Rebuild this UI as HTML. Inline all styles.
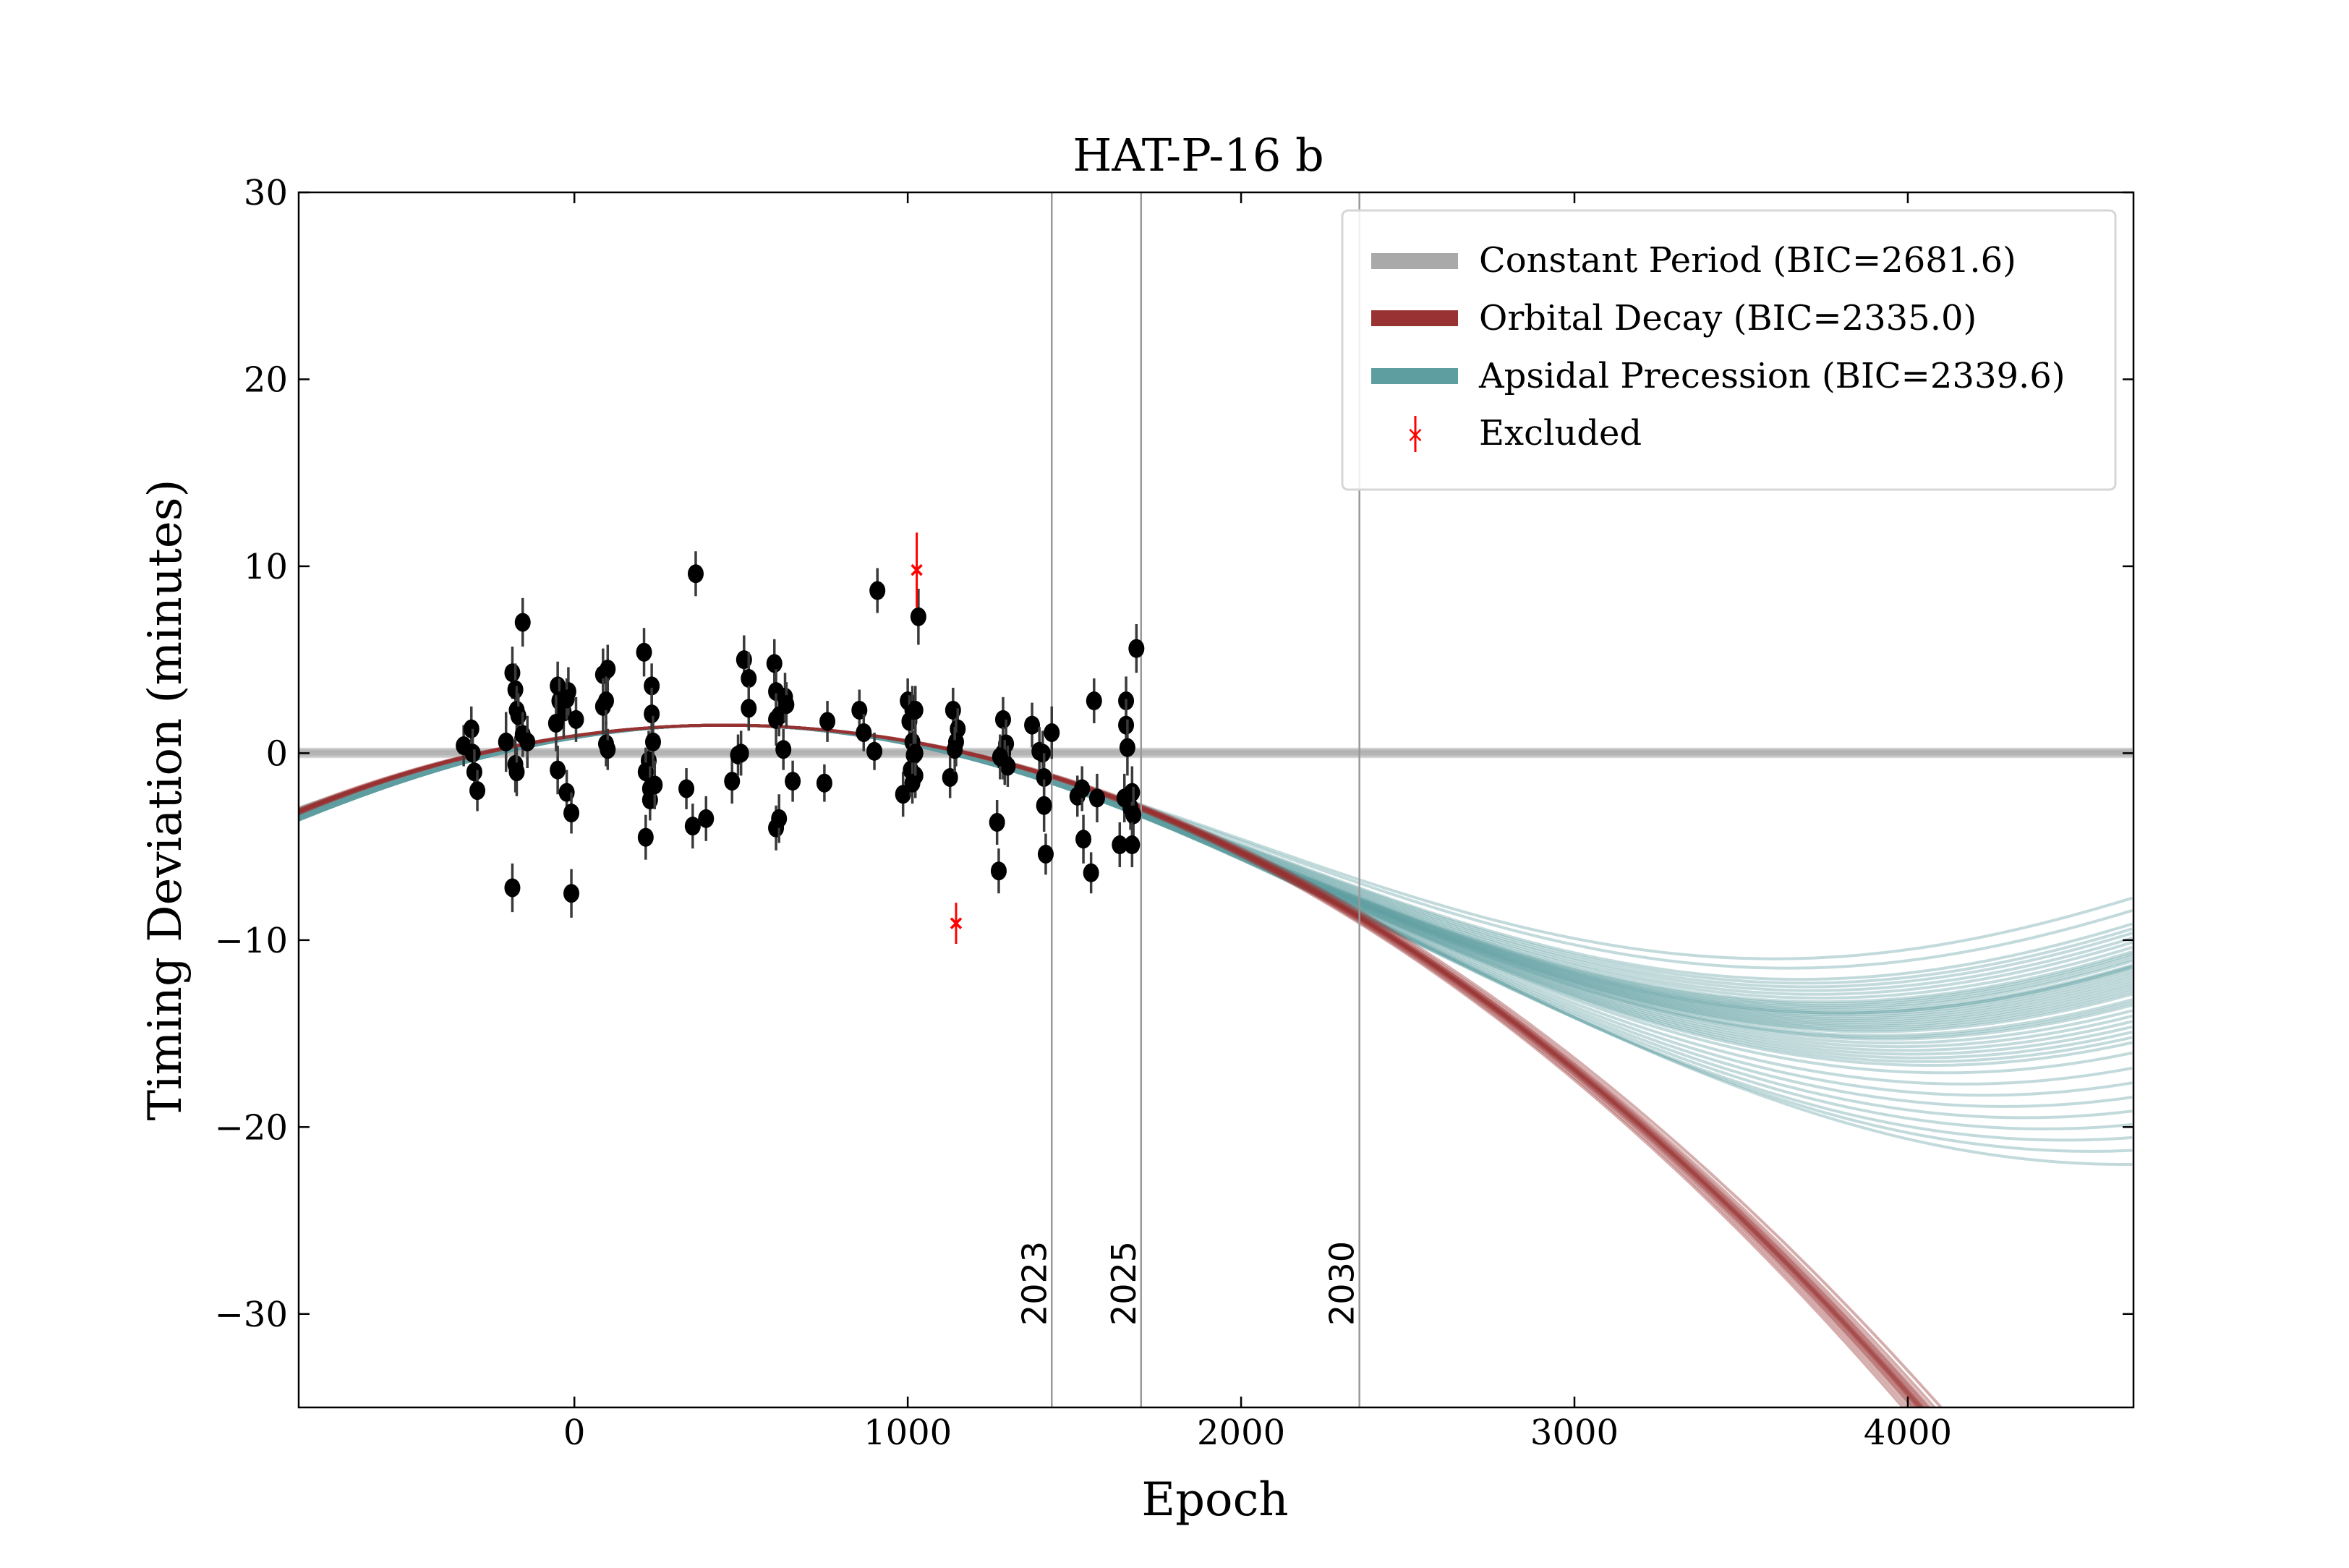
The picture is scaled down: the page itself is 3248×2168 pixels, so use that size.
<!DOCTYPE html>
<html><head><meta charset="utf-8"><style>
html,body{margin:0;padding:0;background:#fff;width:3248px;height:2168px;overflow:hidden;}
svg{display:block;font-family:"DejaVu Serif","Liberation Serif",serif;}
</style></head><body>
<svg id="chart" width="3248" height="2168" viewBox="0 0 3248 2168" xmlns="http://www.w3.org/2000/svg">
<defs><clipPath id="clip"><rect x="413" y="266" width="2537" height="1680"/></clipPath></defs>
<rect x="0" y="0" width="3248" height="2168" fill="#fff"/>
<g id="models" clip-path="url(#clip)"></g>
<g id="vlines"></g>
<g id="points" clip-path="url(#clip)"></g>
<rect x="413" y="266" width="2537" height="1680" fill="none" stroke="#000" stroke-width="2.5"/>
<g id="axes"></g>
<text x="1657" y="236" font-size="62" text-anchor="middle">HAT-P-16 b</text>
<text x="1680" y="2095" font-size="64" text-anchor="middle">Epoch</text>
<text x="0" y="0" font-size="64" text-anchor="middle" transform="translate(250,1106) rotate(-90)">Timing Deviation (minutes)</text>
<g>
<rect x="1856" y="291" width="1069" height="386" rx="8" fill="#fff" fill-opacity="0.85" stroke="#d6d6d6" stroke-width="3"/>
<g><rect x="1896" y="350" width="120" height="22" fill="#a9a9a9"/><text x="2045" y="376" font-size="48">Constant Period (BIC=2681.6)</text></g>
<g><rect x="1896" y="429" width="120" height="22" fill="#993333"/><text x="2045" y="456" font-size="48">Orbital Decay (BIC=2335.0)</text></g>
<g><rect x="1896" y="509" width="120" height="22" fill="#5f9ea0"/><text x="2045" y="536" font-size="48">Apsidal Precession (BIC=2339.6)</text></g>
<g><line x1="1957" y1="575" x2="1957" y2="625" stroke="red" stroke-width="3"/><text x="1957" y="611" font-size="30" fill="red" text-anchor="middle" font-family="DejaVu Sans,sans-serif">×</text><text x="2045" y="615" font-size="48">Excluded</text></g>
</g>
</svg>
<script>
// data
const epochs=[-332,-309,-305,-300,-291,-186,-177,-173,-168,-177,-173,-186,-155,-155,-141,-205,
-50,-45,-32,-18,-23,-55,5,-50,-23,-9,-9,
86,100,86,95,95,100,
209,232,232,223,214,227,227,241,214,236,
364,336,355,395,
473,491,500,509,523,523,
600,605,605,614,632,636,627,605,614,655,
759,750,855,868,900,909,
986,1000,1014,1005,1014,1018,1009,1023,1014,1032,1023,1023,
1127,1136,1150,1145,1141,
1286,1268,1273,1286,1295,1291,1300,1277,
1373,1395,1405,1409,1409,1414,1432,
1509,1523,1527,1550,1559,1568,
1636,1655,1655,1659,1650,1668,1673,1677,1673,1686];
const deviations=[0.4,1.3,0,-1,-2,4.3,3.4,2.3,2.0,-0.6,-1,-7.2,7,1,0.6,0.6,
3.6,2.8,2.2,3.3,2.9,1.6,1.8,-0.9,-2.1,-3.2,-7.5,
4.2,4.5,2.5,2.8,0.5,0.2,
5.4,3.6,2.1,-0.4,-1,-1.9,-2.5,-1.7,-4.5,0.6,
9.6,-1.9,-3.9,-3.5,
-1.5,-0.1,0,5,4,2.4,
4.8,3.3,1.8,2,3,2.6,0.2,-4,-3.5,-1.5,
1.7,-1.6,2.3,1.1,0.1,8.7,
-2.2,2.8,2.3,1.7,0.6,-0.1,-0.9,-1.2,-1.6,7.3,2.3,0,
-1.3,2.3,1.3,0.6,0.2,
1.8,-3.7,-6.3,0,0.5,-0.5,-0.7,-0.2,
1.5,0.1,0,-1.3,-2.8,-5.4,1.1,
-2.3,-1.9,-4.6,-6.4,2.8,-2.4,
-4.9,2.8,1.5,0.3,-2.4,-2.9,-2.1,-3.3,-4.9,5.6];
const errors=[1.1,1.2,1.3,1.2,1.1,1.4,1.4,1.3,1.2,1.5,1.3,1.3,1.3,1.2,1.4,1.6,
1.3,1.2,1.4,1.3,1.1,1.5,1.2,1.3,1.2,1.1,1.3,
1.4,1.3,1.5,1.3,1.2,1.1,
1.3,1.2,1.4,1.6,1.3,1.2,1.1,1.3,1.2,1.4,
1.2,1.1,1.2,1.2,
1.2,1.1,1.2,1.3,1.4,1.2,
1.3,1.2,1.4,1.1,1.3,1.2,1.1,1.2,1.3,1.1,
1.1,1.0,1.1,1.0,1.0,1.2,
1.2,1.2,1.3,1.4,1.2,1.3,1.4,1.2,1.1,1.5,1.3,1.2,
1.1,1.2,1.1,1.3,1.2,
1.2,1.2,1.2,1.4,1.3,1.2,1.1,1.2,
1.2,1.3,1.2,1.3,1.4,1.1,1.4,
1.1,1.2,1.3,1.1,1.2,1.3,
1.2,1.3,1.4,1.5,1.3,1.2,1.4,1.5,1.2,1.3];
const excludedEpochs=[1027,1145];
const excludedDeviations=[9.8,-9.1];
const excludedErrors=[2.0,1.1];
const xTicks=[0,1000,2000,3000,4000];
const yTicks=[30,20,10,0,-10,-20,-30];
const yearEpochs=[1432,2355];
const yearEpochs2=[1700];
const yearLabels=["2023","2030"];
const yearLabels2=["2025"];
// model samples
const decayK=[2.74e-6,2.77e-6,2.79e-6,2.80e-6,2.81e-6,2.82e-6,2.825e-6,2.83e-6,2.835e-6,2.84e-6,2.845e-6,2.85e-6,2.86e-6,2.87e-6,2.88e-6,2.90e-6,2.92e-6];
const apsAmp=[6.25,6.5,6.8,7.0,7.2,7.4,7.5,7.6,7.7,7.75,7.8,7.9,8.0,8.1,8.2,8.3,8.4,8.5,8.7,8.9,9.1,9.3,9.6,9.9,10.2,10.5,10.8,11.1,11.4,11.75,7.3,7.65,7.85,8.05,8.6,9.0,7.45,7.55,7.7,7.95,8.15,8.35,8.8,6.9,7.1];
const apsPeriod=[6300,6380,6450,6500,6550,6600,6620,6650,6680,6700,6720,6760,6800,6840,6880,6920,6960,7000,7080,7160,7240,7320,7440,7560,7680,7800,7920,8040,8200,8400,6580,6690,6740,6820,7040,7200,6610,6640,6700,6780,6860,6940,7120,6480,6530];
const constOffsets=[-0.15,-0.08,0,0.06,0.12,0.18];

const X0=413,X1=2950,Y0=266,Y1=1946,XMIN=-827,XMAX=4677,YMIN=-35,YMAX=30;
const sx=e=>X0+(e-XMIN)/(XMAX-XMIN)*(X1-X0);
const sy=v=>Y0+(YMAX-v)/(YMAX-YMIN)*(Y1-Y0);
const NS='http://www.w3.org/2000/svg';
function mk(tag,attrs,parent){const el=document.createElementNS(NS,tag);for(const k in attrs)el.setAttribute(k,attrs[k]);parent.appendChild(el);return el;}
const models=document.getElementById('models');
function pathFor(f){let d='';for(let e=XMIN;e<=XMAX;e+=20){d+=(d?'L':'M')+sx(e).toFixed(1)+','+sy(f(e)).toFixed(1);}return d;}
constOffsets.forEach(o=>{
 const p=mk('path',{d:pathFor(()=>o),fill:'none',stroke:'#a9a9a9','stroke-width':6,'stroke-opacity':0.45},models);
 
 
});
apsAmp.forEach((A,i)=>{
 const P=apsPeriod[i];
 const p=mk('path',{d:pathFor(e=>1.5-A*(1-Math.cos(2*Math.PI*(e-450)/P))),fill:'none',stroke:'#5f9ea0','stroke-width':4,'stroke-opacity':0.38},models);
 
 
});
decayK.forEach(k=>{
 const p=mk('path',{d:pathFor(e=>1.5-k*(e-450)*(e-450)),fill:'none',stroke:'#993333','stroke-width':4,'stroke-opacity':0.4},models);
 
 
});
const vl=document.getElementById('vlines');
function yearLine(e,label){
 const l=mk('line',{x1:sx(e),x2:sx(e),y1:Y0,y2:Y1,stroke:'#999','stroke-width':2.5},vl);
 
 
 const t=mk('text',{x:0,y:0,'font-size':46,'font-family':'DejaVu Sans,Liberation Sans,sans-serif',transform:`translate(${sx(e)-8},1833) rotate(-90)`},vl);
 t.textContent=label;
 
 
}
yearEpochs.forEach((e,i)=>yearLine(e,yearLabels[i]));
yearEpochs2.forEach((e,i)=>yearLine(e,yearLabels2[i]));
const pts=document.getElementById('points');
epochs.forEach((e,i)=>{
 const v=deviations[i],er=errors[i];
 const g=mk('g',{},pts);
 
 
 mk('line',{x1:sx(e),x2:sx(e),y1:sy(v+er),y2:sy(v-er),stroke:'#3a3a3a','stroke-width':3.5},g);
 mk('ellipse',{cx:sx(e),cy:sy(v),rx:11,ry:13,fill:'#000'},g);
});
excludedEpochs.forEach((e,i)=>{
 const v=excludedDeviations[i],er=excludedErrors[i];
 const g=mk('g',{},pts);
 
 
 mk('line',{x1:sx(e),x2:sx(e),y1:sy(v+er),y2:sy(v-er),stroke:'red','stroke-width':3},g);
 const x=sx(e),y=sy(v);
 mk('path',{d:`M${x-7},${y-7}L${x+7},${y+7}M${x-7},${y+7}L${x+7},${y-7}`,stroke:'red','stroke-width':3.5},g);
});
const ax=document.getElementById('axes');
xTicks.forEach(t=>{
 const x=sx(t);
 mk('line',{x1:x,x2:x,y1:Y1,y2:Y1-15,stroke:'#000','stroke-width':2.5},ax);
 mk('line',{x1:x,x2:x,y1:Y0,y2:Y0+15,stroke:'#000','stroke-width':2.5},ax);
 const tx=mk('text',{x:x,y:1997,'font-size':48,'text-anchor':'middle'},ax);
 tx.textContent=t<0?'\u2212'+(-t):String(t);
 
 
});
yTicks.forEach(t=>{
 const y=sy(t);
 mk('line',{x1:X0,x2:X0+15,y1:y,y2:y,stroke:'#000','stroke-width':2.5},ax);
 mk('line',{x1:X1,x2:X1-15,y1:y,y2:y,stroke:'#000','stroke-width':2.5},ax);
 const tx=mk('text',{x:398,y:y+17,'font-size':48,'text-anchor':'end'},ax);
 tx.textContent=t<0?'\u2212'+(-t):String(t);
 
 
});
</script>
</body></html>
